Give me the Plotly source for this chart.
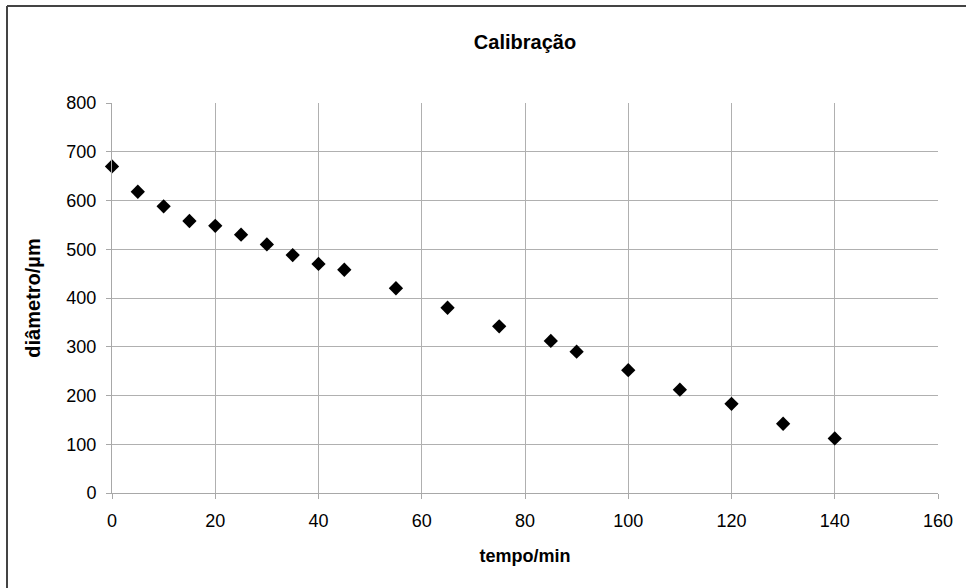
import plotly.graph_objects as go

tempo = [0, 5, 10, 15, 20, 25, 30, 35, 40, 45, 55, 65, 75, 85, 90, 100, 110, 120, 130, 140]
diametro = [670, 618, 588, 558, 548, 530, 510, 488, 470, 458, 420, 380, 342, 312, 290, 252, 212, 183, 142, 112]
x_ticks = [0, 20, 40, 60, 80, 100, 120, 140, 160]
y_ticks = [0, 100, 200, 300, 400, 500, 600, 700, 800]

W, H = 966, 588
L, R, T, B = 112, 28, 103, 95
pw, ph = W - L - R, H - T - B

fig = go.Figure()
fig.add_trace(go.Scatter(
    x=tempo, y=diametro, mode="markers",
    marker=dict(symbol="diamond", size=11, color="black"),
    cliponaxis=False,
    showlegend=False,
))

font = "Liberation Sans, Arial, sans-serif"
fig.update_layout(
    width=W, height=H,
    margin=dict(l=L, r=R, t=T, b=B),
    paper_bgcolor="white", plot_bgcolor="white",
    font=dict(family=font, color="black", size=18),
    title=dict(text="<b>Calibração</b>", x=525 / W, xanchor="center",
               y=1 - 42 / H, yanchor="middle", font=dict(size=20)),
    xaxis=dict(range=[0, 160], tickvals=x_ticks, showgrid=True, gridcolor="#b0b0b0",
               gridwidth=1, zeroline=False, showline=True, linecolor="#a8a8a8",
               ticks="outside", ticklen=5, tickcolor="#a8a8a8",
               tickfont=dict(size=18), ticklabelstandoff=6,
               title=dict(text="<b>tempo/min</b>", font=dict(size=18), standoff=19)),
    yaxis=dict(range=[0, 800], tickvals=y_ticks, showgrid=True, gridcolor="#b0b0b0",
               gridwidth=1, zeroline=False, showline=True, linecolor="#a8a8a8",
               ticks="outside", ticklen=5, tickcolor="#a8a8a8",
               tickfont=dict(size=18), ticklabelstandoff=6,
               title=dict(text="<b>diâmetro/µm</b>", font=dict(size=20), standoff=20)),
)

def px_x(p):
    return (p - L) / pw

def px_y(p):
    return (H - B - p) / ph

# outer chart border (left and top edges visible)
fig.add_shape(type="line", xref="paper", yref="paper",
              x0=px_x(7), x1=px_x(7), y0=px_y(6), y1=px_y(600),
              line=dict(color="#444444", width=2))
fig.add_shape(type="line", xref="paper", yref="paper",
              x0=px_x(7), x1=px_x(970), y0=px_y(6), y1=px_y(6),
              line=dict(color="#444444", width=2))

fig.write_html("out.html")
